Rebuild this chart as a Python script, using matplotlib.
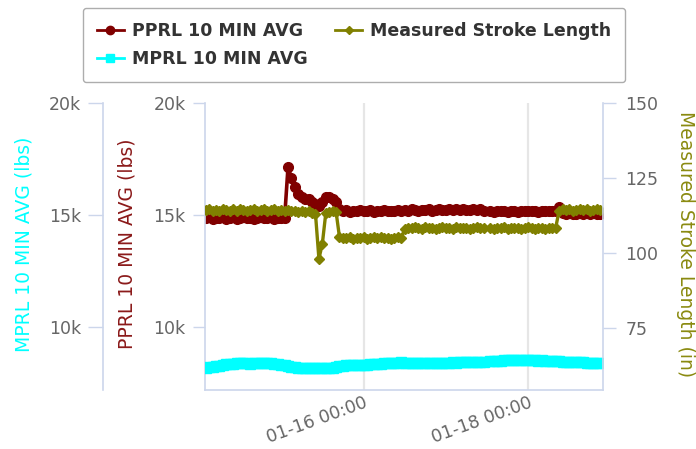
import matplotlib
matplotlib.use("Agg")
import matplotlib.pyplot as plt
import matplotlib.dates as mdates
from matplotlib.ticker import FixedLocator, FuncFormatter
from matplotlib.lines import Line2D
import numpy as np
import pandas as pd

nan = float("nan")

start_time = "2020-01-14 02:00"

pprl = [14850, 14900, 14820, 14880, 14860, 14910, 14840, 14870, 14900, 14830, 14860, 14890,
        14850, 14880, 14820, 14870, 14900, 14850, 14860, 14890, 14840, 14870, 14880, 14860,
        17150, 16650, 16250, 15950, 15800, 15700, 15700, 15600, 15500, 15400, 15600, 15800,
        15800, 15700, 15600, 15250,
        15180, 15220, 15150, 15200, 15170, 15230, 15160, 15190, 15210, 15150, 15200, 15180,
        15240, 15170, 15200, 15160, 15220, 15190, 15230, 15200, 15250, 15210, 15190, 15240,
        15220, 15260, 15200, 15230, 15250, 15210, 15240, 15260, 15220, 15250, 15230, 15270,
        15240, 15220, 15260, 15230, 15250, 15200,
        nan,
        15180, 15150, 15200, 15160, 15190, 15140, 15180, 15200, 15150, 15170, 15190, 15160,
        15200, 15170, 15150, 15190, 15180, 15160, 15200, 15170,
        15350, 15100, 15050, 15080, 15030, 15060, 15090, 15040, 15070, 15050, 15080, 15040, 15060]

mprl = [8170, 8200, 8230, 8250, 8280, 8300, 8330, 8350, 8370, 8380,
        8390, 8400, 8380, 8370, 8390, 8400, 8410, 8390, 8380, 8390,
        8370, 8350, 8320, 8290, 8250, 8215, 8200, 8180, 8170,
        8170, 8160, 8170, 8180, 8170, 8180, 8190, 8180, 8190,
        8210, 8240, 8270, 8300, 8310, 8300, 8290, 8300, 8300,
        8320, 8330, 8350, 8360, 8370, 8380, 8390, 8400, 8400, 8410,
        8420, 8410, 8400, 8410, 8400, 8390, 8380, 8390, 8390,
        8400, 8390, 8400, 8410, 8400, 8410, 8420, 8410,
        8420, 8430, 8420, 8430, 8440, 8430, 8440, 8440,
        nan,
        8470, 8480, 8490, 8500, 8510, 8520, 8510, 8520, 8530, 8530,
        8540, 8530, 8520, 8510, 8500, 8510, 8500, 8490, 8480, 8480,
        8470, 8460, 8450, 8450, 8440, 8430, 8430, 8420, 8410, 8410, 8400, 8400, 8400]

stroke = [114.2, 114.6, 113.9, 114.4, 114.0, 114.7, 114.3, 113.8, 114.5, 114.1, 114.6, 114.2,
          113.9, 114.4, 114.7, 114.0, 114.3, 114.5, 113.8, 114.2, 114.6, 114.1, 114.4, 113.9,
          114.3, 113.8, 114.0, 113.6, 113.9, 113.5, 113.8, 113.4,
          113.0, 98.0, 103.0, 113.2, 113.6, 114.0, 113.7,
          105.2, 104.8, 105.0, 105.4, 104.7, 105.1, 104.9, 105.3, 104.6, 105.0, 105.2, 104.8,
          105.4, 104.9, 105.1, 104.7, 105.0, 105.3, 104.9,
          108.0, 108.4, 108.2, 108.6, 108.3, 108.1, 108.5, 108.2, 108.4, 108.0, 108.3, 108.6,
          108.2, 108.4, 108.1, 108.5, 108.3, 108.2, 108.4, 108.0, 108.3, 108.5, 108.2, 108.4,
          nan,
          108.3, 108.1, 108.4, 108.2, 108.5, 108.0, 108.3, 108.2, 108.4, 108.1, 108.3, 108.5,
          108.2, 108.0, 108.4, 108.3, 108.1, 108.4, 108.2, 108.3,
          114.0, 114.5, 114.2, 114.6, 114.1, 114.4, 114.7, 114.2, 114.5, 114.0, 114.3, 114.6, 114.2]

assert len(pprl) == len(mprl) == len(stroke)

times = pd.date_range(start_time, periods=len(pprl), freq="h")

x_ticks = ["2020-01-16 00:00", "2020-01-18 00:00"]
left_ticks = [10000, 15000, 20000]
right_ticks = [75, 100, 125, 150]

RED = "#800000"
CYAN = "#00FFFF"
OLIVE = "#808000"
AXC = "#ccd6eb"
TICKC = "#666666"
FONT = "DejaVu Sans"
TICK_FS = 12.5
TITLE_FS = 13.5

plt.rcParams["font.family"] = FONT

W, H = 696, 449
fig = plt.figure(figsize=(W / 100, H / 100), dpi=100)

L, R, T, B = 205, 603, 103, 390
ax = fig.add_axes([L / W, 1 - B / H, (R - L) / W, (B - T) / H])
ax_m = ax.twinx()
ax_r = ax.twinx()

# series
ax.plot(times, pprl, color=RED, lw=2.6, marker="o", ms=7, mec=RED, mfc=RED)
ax_m.plot(times, mprl, color=CYAN, lw=2.6, marker="s", ms=7.5, mec=CYAN, mfc=CYAN)
ax_r.plot(times, stroke, color=OLIVE, lw=2.4, marker="D", ms=5, mec=OLIVE, mfc=OLIVE)

ax.set_zorder(1)
ax_m.set_zorder(2)
ax_r.set_zorder(3)
for a in (ax_m, ax_r):
    a.patch.set_visible(False)

xmin = pd.Timestamp(start_time) - pd.Timedelta(minutes=12)
xmax = pd.Timestamp(start_time) + pd.Timedelta(hours=115.8)
ax.set_xlim(xmin, xmax)

ylo, yhi = 7190, 20000
ax.set_ylim(ylo, yhi)
ax_m.set_ylim(ylo, yhi)
ax_r.set_ylim(54.2, 150)

kfmt = FuncFormatter(lambda v, p: f"{int(v/1000)}k")

# x axis
ax.xaxis.set_major_locator(FixedLocator(mdates.date2num(pd.to_datetime(x_ticks))))
ax.xaxis.set_major_formatter(mdates.DateFormatter("%m-%d %H:%M"))
ax.grid(axis="x", color="#e6e6e6", lw=1.6)
ax.set_axisbelow(True)
ax.tick_params(axis="x", length=0, pad=3, labelsize=TICK_FS, colors=TICKC)
for lab in ax.get_xticklabels():
    lab.set_rotation(20)
    lab.set_ha("right")
    lab.set_rotation_mode("anchor")

# main (PPRL) left axis
ax.yaxis.set_major_locator(FixedLocator(left_ticks))
ax.yaxis.set_major_formatter(kfmt)
ax.tick_params(axis="y", length=9, width=1, color=AXC, pad=5, labelsize=TICK_FS, labelcolor=TICKC)
for s in ("top", "right"):
    ax.spines[s].set_visible(False)
ax.spines["left"].set_color(AXC)
ax.spines["bottom"].set_color(AXC)
ax.spines["left"].set_linewidth(1.2)
ax.spines["bottom"].set_linewidth(1.2)

# MPRL axis, offset left
ax_m.yaxis.set_ticks_position("left")
ax_m.yaxis.set_label_position("left")
ax_m.spines["left"].set_position(("axes", (103 - L) / (R - L)))
ax_m.spines["left"].set_visible(True)
ax_m.spines["left"].set_color(AXC)
ax_m.spines["left"].set_linewidth(1.2)
for s in ("top", "right", "bottom"):
    ax_m.spines[s].set_visible(False)
ax_m.yaxis.set_major_locator(FixedLocator(left_ticks))
ax_m.yaxis.set_major_formatter(kfmt)
ax_m.tick_params(axis="y", length=11, width=1, color=AXC, pad=5, labelsize=TICK_FS, labelcolor=TICKC)

# right axis
for s in ("top", "left", "bottom"):
    ax_r.spines[s].set_visible(False)
ax_r.spines["right"].set_color(AXC)
ax_r.spines["right"].set_linewidth(1.2)
ax_r.yaxis.set_major_locator(FixedLocator(right_ticks))
ax_r.tick_params(axis="y", length=9, width=1, color=AXC, pad=7, labelsize=TICK_FS, labelcolor=TICKC)

# axis titles
fig.text(24 / W, 1 - 244 / H, "MPRL 10 MIN AVG (lbs)", rotation=90, color=CYAN,
         ha="center", va="center", fontsize=TITLE_FS)
fig.text(127 / W, 1 - 244 / H, "PPRL 10 MIN AVG (lbs)", rotation=90, color="#8b1a1a",
         ha="center", va="center", fontsize=TITLE_FS)
fig.text(685 / W, 1 - 244 / H, "Measured Stroke Length (in)", rotation=270, color="#8a8a10",
         ha="center", va="center", fontsize=TITLE_FS)

# legend
handles = [
    Line2D([], [], color=RED, lw=2, marker="o", ms=6, mec=RED, mfc=RED),
    Line2D([], [], color=CYAN, lw=2, marker="s", ms=6, mec=CYAN, mfc=CYAN),
    Line2D([], [], color=OLIVE, lw=2, marker="D", ms=4.5, mec=OLIVE, mfc=OLIVE),
]
labels = ["PPRL 10 MIN AVG", "MPRL 10 MIN AVG", "Measured Stroke Length"]
leg = fig.legend(handles, labels, ncol=2, loc="upper left",
                 bbox_to_anchor=(83 / W, 1 - 8 / H), bbox_transform=fig.transFigure,
                 borderaxespad=0,
                 prop={"family": FONT, "size": 12.5, "weight": "bold"},
                 frameon=True, fancybox=True, edgecolor="#999999",
                 handlelength=1.55, handletextpad=0.46, columnspacing=1.6,
                 borderpad=0.8, labelspacing=0.6, shadow=False)
leg.get_frame().set_linewidth(1.0)
for t in leg.get_texts():
    t.set_color("#333333")

fig.savefig("out.png", dpi=100)
